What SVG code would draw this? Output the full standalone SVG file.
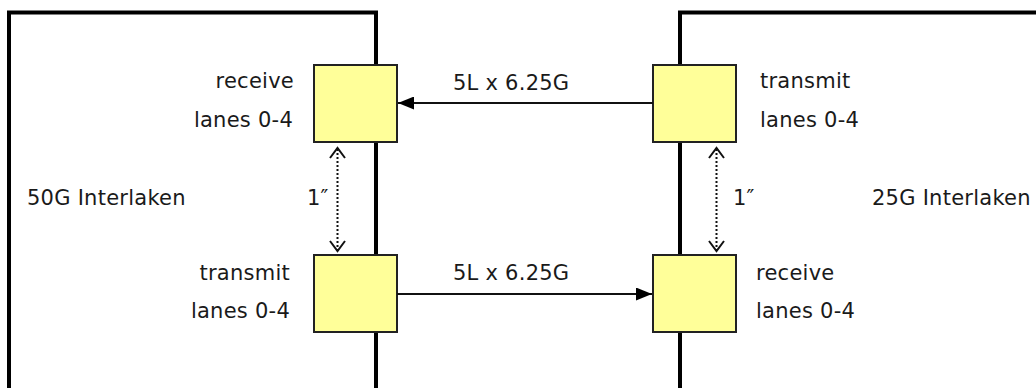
<svg xmlns="http://www.w3.org/2000/svg" width="1036" height="388" viewBox="0 0 1036 388">
<style>
.chip{fill:none;stroke:#000;stroke-width:4}
.port{fill:#FFFF99;stroke:#222;stroke-width:2}
text{font-family:"DejaVu Sans",Verdana,sans-serif;font-size:21px;letter-spacing:0.25px;fill:#1a1a1a}
.r{text-anchor:end}
.link{stroke:#111;stroke-width:2;fill:none}
.dot{stroke:#111;stroke-width:2;stroke-dasharray:2 2;fill:none}
.chev{stroke:#111;stroke-width:2;fill:none}
</style>
<defs>
<marker id="ah" viewBox="0 0 10 10" refX="10" refY="5" markerWidth="16" markerHeight="13" markerUnits="userSpaceOnUse" orient="auto" preserveAspectRatio="none">
<path d="M0,0 L10,5 L0,10 Z" fill="#000"/>
</marker>
</defs>
<rect width="1036" height="388" fill="#fff"/>
<g id="chip50">
<path class="chip" d="M9,392 V12.5 H376 V392"/>
<text x="27" y="205">50G Interlaken</text>
</g>
<g id="chip25">
<path class="chip" d="M1040,12.5 H680 V392"/>
<text x="872" y="205">25G Interlaken</text>
</g>
<g id="rx50">
<rect class="port" x="314" y="65" width="83" height="77"/>
<text class="r" x="294" y="88">receive</text>
<text class="r" x="293" y="127">lanes 0-4</text>
</g>
<g id="tx50">
<rect class="port" x="314" y="255" width="83" height="77"/>
<text class="r" x="290" y="280">transmit</text>
<text class="r" x="290" y="318">lanes 0-4</text>
</g>
<g id="tx25">
<rect class="port" x="653" y="65" width="83" height="77"/>
<text x="760" y="88">transmit</text>
<text x="760" y="127">lanes 0-4</text>
</g>
<g id="rx25">
<rect class="port" x="653" y="255" width="83" height="77"/>
<text x="756" y="280">receive</text>
<text x="756" y="318">lanes 0-4</text>
</g>
<g id="connectors">
<line class="link" x1="653" y1="103" x2="398" y2="103" style="marker-end:url(#ah)"/>
<text x="453" y="90">5L x 6.25G</text>
<line class="link" x1="397" y1="294" x2="652" y2="294" style="marker-end:url(#ah)"/>
<text x="453" y="280">5L x 6.25G</text>
<line class="dot" x1="337.5" y1="149" x2="337.5" y2="251"/>
<path class="chev" d="M330,158 L337.5,148 L345,158 M330,241 L337.5,251 L345,241"/>
<text x="307" y="205">1″</text>
<line class="dot" x1="716.5" y1="149" x2="716.5" y2="251"/>
<path class="chev" d="M709,158 L716.5,148 L724,158 M709,241 L716.5,251 L724,241"/>
<text x="733" y="205">1″</text>
</g>
</svg>
